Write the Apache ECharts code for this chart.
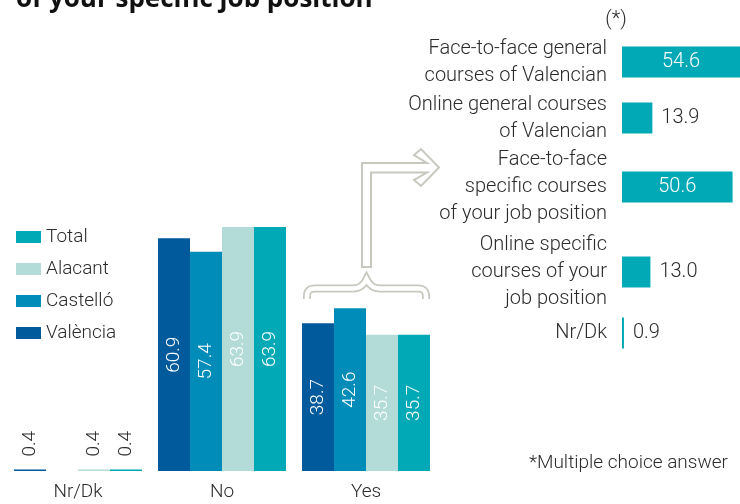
<!DOCTYPE html>
<html>
<head>
<meta charset="utf-8">
<script src="https://cdn.jsdelivr.net/npm/echarts@6/dist/echarts.min.js"></script>
<style>html,body{margin:0;padding:0;background:#fff;}#chart{width:740px;height:504px;}</style>
</head>
<body>
<div id="chart"></div>
<script>
// ---- data ----
const categories = ['Nr/Dk', 'No', 'Yes'];
const valencia = [0.4, 60.9, 38.7];
const castello = [null, 57.4, 42.6];
const alacant = [0.4, 63.9, 35.7];
const total = [0.4, 63.9, 35.7];
const seriesNames = ['València', 'Castelló', 'Alacant', 'Total'];
const legendOrder = ['Total', 'Alacant', 'Castelló', 'València'];

const courseLabels = [
  'Face-to-face general\ncourses of Valencian',
  'Online general courses\nof Valencian',
  'Face-to-face\nspecific courses\nof your job position',
  'Online specific\ncourses of your\njob position',
  'Nr/Dk'
];
const courseValues = [54.6, 13.9, 50.6, 13.0, 0.9];

// ---- styles / layout ----
const FONT = 'Roboto';
const TXT = '#2b2b2b';
const colors = ['#005a9c', '#008cb8', '#b3dcd8', '#00a9b5'];
const rowCenters = [62, 118, 187, 272, 333];

const chart = echarts.init(document.getElementById('chart'), null, {renderer: 'canvas'});

function leftData(arr) {
  return arr.map(v => {
    if (v === null) return '-';
    if (v < 5) {
      return {value: v, label: {show: true, position: 'top', rotate: 90, align: 'left', verticalAlign: 'middle', distance: 13, color: TXT}};
    }
    return {value: v, label: {show: true, position: 'inside', rotate: 90, color: '#fff'}};
  });
}

const grids = [{left: 6, width: 432, top: 89, height: 382}];
const xAxes = [{
  type: 'category', data: categories, gridIndex: 0,
  axisLine: {show: false}, axisTick: {show: false},
  axisLabel: {fontSize: 19, color: TXT, margin: 12, fontFamily: FONT, fontWeight: 300}
}];
const yAxes = [{type: 'value', min: 0, max: 100, show: false, gridIndex: 0}];
const series = [valencia, castello, alacant, total].map((arr, i) => ({
  name: seriesNames[i], type: 'bar', xAxisIndex: 0, yAxisIndex: 0,
  barWidth: 32, barGap: '0%', itemStyle: {color: colors[i]},
  label: {fontSize: 19, fontFamily: FONT, fontWeight: 300, formatter: p => p.value.toFixed(1)},
  data: leftData(arr)
}));

courseValues.forEach((v, i) => {
  const gi = i + 1;
  grids.push({left: 622, width: 118, top: rowCenters[i] - 15.5, height: 31});
  xAxes.push({type: 'value', min: 0, max: 54, show: false, gridIndex: gi});
  yAxes.push({
    type: 'category', data: [courseLabels[i]], gridIndex: gi,
    axisLine: {show: false}, axisTick: {show: false},
    axisLabel: {fontSize: 20, lineHeight: 27, color: TXT, margin: 15, fontFamily: FONT, fontWeight: 300, align: 'right'}
  });
  const big = v > 30;
  series.push({
    type: 'bar', xAxisIndex: gi, yAxisIndex: gi, barWidth: 31, clip: true,
    itemStyle: {color: colors[3]},
    label: {
      show: true, position: big ? 'inside' : 'right', distance: 9,
      color: big ? '#fff' : TXT, fontSize: 20, fontFamily: FONT, fontWeight: 300,
      formatter: p => p.value.toFixed(1)
    },
    data: [v]
  });
});

// brace outline sampled from quadratic curves (decoration)
function quad(p0, p1, p2, n) {
  const pts = [];
  for (let k = 1; k <= n; k++) {
    const t = k / n, u = 1 - t;
    pts.push([u * u * p0[0] + 2 * u * t * p1[0] + t * t * p2[0], u * u * p0[1] + 2 * u * t * p1[1] + t * t * p2[1]]);
  }
  return pts;
}
const braceY = 288.5;
let bracePts = [[307, 299], [307, 296]];
bracePts = bracePts.concat(quad([307, 296], [307, braceY], [315, braceY], 8));
bracePts.push([353, braceY]);
bracePts = bracePts.concat(quad([353, braceY], [362, braceY], [366.5, 279], 8));
bracePts = bracePts.concat(quad([366.5, 279], [371, braceY], [380, braceY], 8));
bracePts.push([418, braceY]);
bracePts = bracePts.concat(quad([418, braceY], [426, braceY], [426, 296], 8));
bracePts.push([426, 299]);

const braceGray = '#c8c8bf';
const option = {
  animation: false,
  textStyle: {fontFamily: FONT},
  legend: {
    orient: 'vertical', left: 16, top: 227, padding: 0, icon: 'rect',
    itemWidth: 25, itemHeight: 12, itemGap: 12,
    data: legendOrder,
    textStyle: {fontSize: 19, lineHeight: 20, color: TXT, fontFamily: FONT, fontWeight: 300}
  },
  grid: grids, xAxis: xAxes, yAxis: yAxes, series: series,
  graphic: [
    {type: 'text', x: 16, y: 0, style: {text: 'of your specific job position', font: 'bold 26px "Open Sans"', fill: '#111', textAlign: 'left', textVerticalAlign: 'middle'}},
    {type: 'text', x: 616, y: 20, style: {text: '(*)', font: '300 20px Roboto', fill: TXT, textAlign: 'center', textVerticalAlign: 'middle'}},
    {type: 'text', x: 728, y: 463, style: {text: '*Multiple choice answer', font: '300 19px Roboto', fill: TXT, textAlign: 'right', textVerticalAlign: 'middle'}},
    {type: 'polyline', shape: {points: bracePts}, style: {stroke: braceGray, lineWidth: 8, fill: null, lineJoin: 'miter'}},
    {type: 'polyline', shape: {points: bracePts}, style: {stroke: '#fff', lineWidth: 4.5, fill: null, lineJoin: 'miter'}},
    {type: 'polygon', shape: {points: [[362, 267], [362, 163], [427, 163], [414, 155], [421, 149], [439, 167.5], [421, 186], [414, 180], [427, 172.5], [371, 172.5], [371, 267]]},
     style: {fill: '#fff', stroke: braceGray, lineWidth: 2}}
  ]
};
chart.setOption(option);
</script>
</body>
</html>
